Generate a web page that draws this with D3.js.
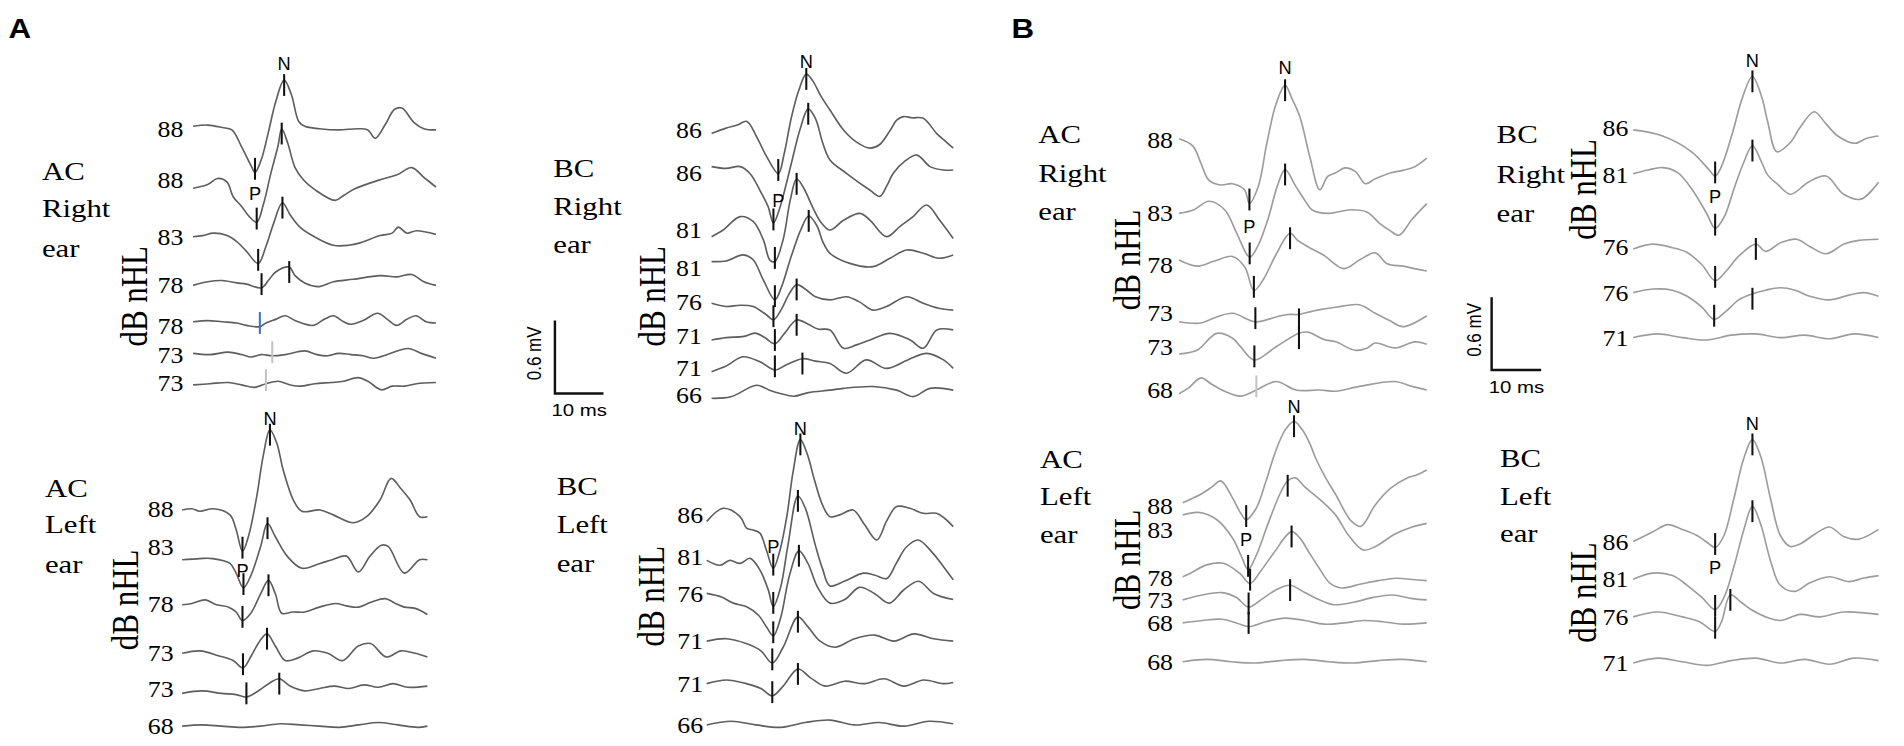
<!DOCTYPE html>
<html>
<head>
<meta charset="utf-8">
<script src="https://cdn.jsdelivr.net/npm/d3@7"></script>
<style>
  body { margin: 0; background: #fff; }
  svg { display: block; }
</style>
</head>
<body>
<svg id="fig" width="1904" height="746" viewBox="0 0 1568 614.35"></svg>
<script>
// sweep length (ms) and calibration bar
const sweepMs = 50;
const barMs = 10;
const barUv = 600; // 0.6 mV

// ---------- A : AC right ear ----------
const aAcRightLevels = [88, 88, 83, 78, 78, 73, 73];
const aAcRightWaves = [
  [[0,20],[3,30],[6,10],[8,-10],[10,-150],[12,-310],[12.75,-360],[14,-260],[15.5,-30],[17,220],[18.75,400],[20.25,280],[21.75,60],[23,20],[26,0],[30,-10],[34,0],[36,-10],[37.5,-80],[39.5,30],[41.5,160],[43,170],[45.5,50],[47.5,0],[50,-10]],
  [[0,-70],[3,-40],[5,10],[7,-20],[8.25,-140],[10,-220],[11.5,-300],[13.1,-350],[14.5,-200],[16,50],[17.5,280],[18.25,420],[19.5,300],[21,100],[22.7,0],[25,-80],[29.25,-170],[31,-130],[33,-80],[38.5,0],[42,40],[45,100],[47.5,20],[50,-60]],
  [[0,0],[2,10],[4.2,30],[7,10],[9,-40],[11,-120],[13.4,-220],[15,-80],[16.5,100],[18.4,280],[20,180],[22,80],[25,0],[28.9,-70],[32,-70],[34.4,-50],[38.5,10],[41,30],[42.25,80],[44,30],[46,50],[50,20]],
  [[0,0],[3,30],[6,40],[9,20],[11,10],[14.1,-20],[15.5,40],[17,110],[19.8,150],[21,80],[23,20],[26,-10],[28.9,30],[33,50],[38.5,80],[42,70],[45,90],[47.5,30],[50,0]],
  [[0,30],[3,40],[6,30],[9,20],[11,0],[13.75,-10],[15,20],[17,50],[19,80],[21,40],[24.6,0],[27,50],[28.9,80],[31,30],[32.5,10],[35,40],[38,100],[40,50],[41.9,0],[44,50],[45.9,80],[48,30],[50,20]],
  [[0,10],[3.5,0],[7.25,20],[10,0],[12,-20],[14,0],[16.3,-10],[19,0],[23,30],[25.5,0],[27.7,-10],[30,10],[32.5,0],[35,-10],[37.2,-30],[40,0],[42,30],[44.3,50],[47,10],[50,-30]],
  [[0,-20],[3.5,-10],[7.25,0],[10,-20],[12.75,-40],[15,-10],[17.5,10],[20,-20],[22.2,-30],[25,-10],[28.5,0],[31,10],[34,40],[36,10],[38.75,-60],[41,-30],[43.5,-30],[46,-10],[50,0]]
];
const aAcRightP = [12.75, 13.1, 13.4, 14.1, 13.75, 16.3, 15];
const aAcRightPKind = ['k', 'k', 'k', 'k', 'blue', 'faint', 'faint'];
const aAcRightN = [18.75, 18.25, 18.4, 19.8, null, null, null];

// ---------- A : BC right ear ----------
const aBcRightLevels = [86, 86, 81, 81, 76, 71, 71, 66];
const aBcRightWaves = [
  [[0,-30],[3,15],[5.3,40],[7.3,70],[9.3,-55],[11.4,-220],[13.8,-360],[15,-200],[16.5,100],[18,320],[19.6,460],[21,400],[22.6,280],[24.5,164],[27.3,0],[30,-100],[32.8,-150],[34.8,-120],[37,0],[38.3,80],[39.7,110],[41.5,100],[43.8,96],[46.6,-30],[48.3,-90],[50,-150]],
  [[0,55],[3,40],[5.9,55],[7.9,0],[10,-140],[11.7,-275],[12.8,-410],[14,-300],[14.8,-190],[16.5,80],[18.3,360],[20,530],[21.5,450],[23,250],[24.5,110],[27.9,0],[32.8,-140],[34.8,-190],[36.3,-100],[37.6,0],[40,100],[42.5,150],[45.2,55],[48,27],[50,27]],
  [[0,-55],[2.4,0],[5.9,110],[8.6,70],[10.7,-80],[12.1,-250],[13.1,-260],[14.8,-80],[16.3,250],[17.6,420],[19,350],[21,180],[22.7,60],[24.5,0],[27.3,80],[30.7,137],[32.8,80],[36.2,-55],[39,30],[41.7,110],[44.5,206],[47.2,80],[50,-70]],
  [[0,55],[3,60],[6.5,110],[8.6,70],[10.7,-96],[13.1,-260],[14.5,-150],[16.5,100],[18.5,320],[20.1,430],[21.8,350],[23,220],[24.5,123],[28.6,40],[33.4,13],[36.9,82],[40.4,150],[43.8,123],[47,82],[50,109]],
  [[0,-14],[3,-40],[5.9,-30],[8.6,-40],[11.4,-110],[12.8,-150],[14.5,-60],[16,60],[17.6,140],[19.5,100],[21.5,40],[24.5,14],[27.9,40],[30.5,0],[33.4,-70],[36.2,-40],[40.4,40],[43.8,-14],[47,-55],[50,-70]],
  [[0,-30],[3,-10],[6.7,0],[9,27],[11,-10],[13.1,-60],[15,20],[17.6,135],[20,100],[22,60],[24.5,53],[27.3,-98],[30,-70],[32.8,-30],[36.9,25],[41.1,-30],[43.8,-98],[46.6,53],[50,53]],
  [[0,-27],[3,20],[6.5,96],[10,55],[13.1,-13],[15.5,30],[18.8,80],[21.5,60],[24.5,40],[27.9,-40],[32,70],[36.2,0],[40.6,70],[44.5,124],[48,70],[50,0]],
  [[0,-27],[4,-15],[9.3,80],[12,40],[14.2,13],[17,-10],[20,20],[24.5,40],[27.3,55],[33.4,70],[38.3,40],[41.7,-13],[45.2,55],[50,40]]
];
const aBcRightP = [13.8, 12.8, 13.1, 13.1, 12.8, 13.1, 13.1, null];
const aBcRightN = [19.6, 20, 17.6, 20.1, 17.6, 17.6, 18.8, null];

// ---------- A : AC left ear ----------
const aAcLeftLevels = [88, 83, 78, 73, 73, 68];
const aAcLeftWaves = [
  [[0,-10],[2,0],[3.6,-20],[6.4,0],[9.75,-50],[11,-170],[12.3,-350],[13.5,-230],[15.2,100],[16.5,430],[17.9,650],[19.3,540],[20.6,320],[22.7,70],[24.4,-20],[28.1,-10],[30.8,-50],[34.9,-115],[37.6,-65],[40.3,70],[42.6,250],[44.5,170],[46.5,70],[48.4,-65],[50,-65]],
  [[0,-110],[3.6,-100],[6.2,-100],[9.75,-140],[11,-220],[12.5,-340],[14,-240],[16,0],[17.4,190],[19,80],[21.4,-80],[24.4,-180],[28.1,-140],[30.6,-110],[33.5,-80],[35.9,-210],[38.3,-80],[40.6,10],[42,0],[45.3,-220],[48.4,-110],[50,-110]],
  [[0,-10],[2,0],[4.7,30],[7,-10],[9.5,-30],[11,-70],[12.3,-140],[14,-80],[16,80],[17.6,190],[19,80],[20.3,-80],[22.5,-70],[25,-70],[28,-30],[31.3,0],[33.5,-20],[35.9,-30],[38.5,10],[41.4,40],[43.5,0],[45.3,-30],[47.5,-40],[50,-90]],
  [[0,0],[3.7,20],[7.4,-20],[10.4,-60],[12.4,-120],[14.1,-20],[15.8,100],[17.3,160],[19,60],[21,-60],[23.5,-40],[26.7,20],[29.7,0],[32.7,-60],[35.9,60],[38.4,80],[41.6,-30],[44.6,20],[47.5,0],[50,-30]],
  [[0,-40],[4,-20],[8,-40],[11,-50],[13.1,-70],[15.5,-20],[18,50],[19.8,80],[22,20],[25,-20],[28,0],[31,20],[34,0],[37,30],[40,10],[43,40],[46,10],[50,20]],
  [[0,0],[4,10],[8,0],[12,-10],[16,0],[20,20],[24,10],[28,0],[32,-10],[36,10],[40,30],[44,10],[48,-10],[50,0]]
];
const aAcLeftP = [12.3, 12.5, 12.3, 12.4, 13.1, null];
const aAcLeftN = [17.9, 17.4, 17.6, 17.3, 19.8, null];

// ---------- A : BC left ear ----------
const aBcLeftLevels = [86, 81, 76, 71, 71, 66];
const aBcLeftWaves = [
  [[0,-55],[3.35,54],[6.75,-15],[8.1,-110],[9.4,-125],[10.8,-150],[12.1,-290],[13.5,-440],[14.8,-300],[16.3,0],[17.5,350],[19,620],[20.4,500],[21.9,280],[23.5,80],[25,-15],[27,0],[29.7,40],[32,-80],[34.5,-207],[36.5,-50],[38.5,68],[41.2,54],[43.9,13],[46.6,13],[48.3,-30],[50,-97]],
  [[0,-30],[2.7,-70],[4.7,-30],[6.75,-55],[8.8,-13],[10.8,-110],[12.5,-275],[13.5,-410],[15,-250],[16.5,100],[18.5,500],[20,400],[22,100],[23.5,-100],[25,-240],[28,-200],[31.8,-135],[34,-150],[36.5,-180],[38.5,-50],[40.5,80],[42.9,138],[45.9,28],[48,-80],[50,-190]],
  [[0,0],[3,-30],[5.4,-80],[8.1,-110],[10.5,-180],[12.2,-280],[13.5,-350],[15,-200],[16.8,150],[18.7,350],[20.5,250],[22.5,50],[25,-80],[28,-50],[31,50],[34,0],[37,-80],[40,30],[43,100],[46,0],[50,-50]],
  [[0,0],[4,20],[8,-20],[11,-80],[13.3,-180],[15.5,-50],[18.5,200],[20.5,120],[23,0],[26,-50],[30,20],[34,50],[38,0],[42,60],[46,20],[50,0]],
  [[0,0],[4,30],[8,0],[11,-40],[13.3,-100],[15.5,-20],[18.5,120],[21,50],[24,-20],[28,20],[32,0],[36,40],[40,-20],[44,30],[48,0],[50,10]],
  [[0,0],[5,30],[10,0],[15,-20],[20,20],[25,40],[30,0],[35,20],[40,-10],[45,30],[50,10]]
];
const aBcLeftP = [13.5, 13.5, 13.5, 13.3, 13.3, null];
const aBcLeftN = [19, 18.5, 18.7, 18.5, 18.5, null];

// ---------- B : AC right ear ----------
const bAcRightLevels = [88, 83, 78, 73, 73, 68];
const bAcRightWaves = [
  [[0,10],[2.8,-50],[4.4,-190],[6,-330],[8.4,-370],[10.8,-360],[13.2,-410],[14.2,-520],[16,-380],[17.7,-30],[19.6,300],[21.4,450],[22.8,340],[24.4,190],[26.4,-140],[28.4,-410],[30,-300],[31.6,-270],[33.5,-230],[35.6,-260],[37.6,-360],[39.6,-320],[42.8,-270],[45.2,-250],[47.6,-220],[50,-150]],
  [[0,0],[3,30],[6,100],[9.2,30],[11.6,-160],[14.25,-360],[16,-260],[18,-40],[19.8,220],[21.4,360],[23.6,220],[25.5,100],[26.8,30],[30,0],[34.8,30],[38,10],[40.4,-80],[42.5,-140],[44.4,-180],[47,-50],[50,80]],
  [[0,40],[3.6,-10],[7,30],[10.8,70],[13.3,-20],[15.1,-210],[17,-120],[19.5,80],[22.4,260],[24,200],[26,150],[29.2,80],[33.2,-30],[36.4,40],[39.6,100],[42,10],[45.2,-10],[47.5,-30],[50,-50]],
  [[0,-70],[4.4,-80],[7.6,-30],[10.8,0],[15.4,-70],[19.6,-30],[22,-10],[24.2,-10],[25.2,0],[28.4,30],[31.6,50],[36.4,70],[39.6,0],[42.5,-60],[45.2,-110],[50,-20]],
  [[0,-60],[3.6,-30],[7.6,110],[10.8,70],[12.4,0],[15.2,-110],[19.6,0],[24.2,110],[26,120],[29.2,60],[31.6,40],[35.6,-30],[38,-10],[39.6,30],[43.6,-10],[47.6,40],[50,20]],
  [[0,-30],[2,20],[4.4,100],[6.5,50],[9.2,-10],[12.4,-50],[15.6,0],[19.6,70],[23.6,0],[28.4,0],[31.6,-10],[36.4,30],[43.6,70],[47,30],[50,0]]
];
const bAcRightP = [14.2, 14.25, 15.1, 15.4, 15.2, 15.6];
const bAcRightPKind = ['k', 'k', 'k', 'k', 'k', 'faint'];
const bAcRightN = [21.4, 21.4, 22.4, 24.2, 24.2, null];

// ---------- B : BC right ear ----------
const bBcRightLevels = [86, 81, 76, 76, 71];
const bBcRightWaves = [
  [[0,-20],[6,-70],[11.9,-200],[15.5,-350],[16.7,-400],[18,-320],[20.2,-50],[22.3,250],[24.3,420],[26.2,250],[27.4,50],[29.3,-200],[32.1,-120],[34,0],[36.9,130],[39.3,30],[41.7,-70],[45.2,-130],[47.5,-90],[50,-70]],
  [[0,10],[3,40],[6,60],[9,20],[12,-120],[15,-320],[16.7,-440],[18.5,-350],[20.5,-120],[22.5,100],[24.3,240],[26,120],[27.4,0],[29.5,-80],[32.1,-160],[35.7,-60],[39.3,-10],[42.9,-160],[46.4,-200],[50,-60]],
  [[0,-20],[4,20],[8,-10],[11,-50],[14,-150],[16.7,-280],[19,-200],[21.5,-80],[25,20],[27,-40],[30,30],[33.3,60],[36,0],[39.3,-60],[43,20],[46,50],[50,60]],
  [[0,0],[4,30],[8,20],[11,-30],[14,-120],[16.5,-220],[19,-150],[21.5,-60],[24.3,-10],[27,20],[30,40],[33,20],[36,-30],[40,-60],[44,-20],[47,0],[50,-30]],
  [[0,0],[5,30],[10,0],[15,-20],[20,20],[25,30],[30,0],[35,20],[40,-10],[45,30],[50,0]]
];
const bBcRightP = [16.7, 16.7, 16.7, 16.5, null];
const bBcRightN = [24.3, 24.3, 25, 24.3, null];

// ---------- B : AC left ear ----------
const bAcLeftLevels = [88, 83, 78, 73, 68, 68];
const bAcLeftWaves = [
  [[0,30],[3.7,100],[6,160],[7.8,210],[10.2,70],[11.8,-50],[13,-110],[15,-20],[17,200],[19,450],[21,630],[22.8,700],[24.5,630],[26,520],[27.2,400],[29.2,240],[31.3,100],[34.5,-120],[36.5,-165],[39.4,10],[42.6,150],[45.8,230],[48,260],[50,300]],
  [[0,120],[3.3,140],[7,80],[10.2,-70],[12,-220],[13.4,-330],[15,-220],[17.5,50],[20,300],[21.5,400],[23.1,425],[25,350],[28,250],[31.3,120],[34,-50],[37,-170],[39.5,-140],[43.4,-40],[47,20],[50,50]],
  [[0,13],[1.5,40],[4.9,110],[8.3,123],[11.7,40],[13.8,-42],[16,60],[18.6,205],[22.3,384],[24,330],[26,205],[28,80],[30.2,-42],[32.6,-80],[36.3,-50],[40,-20],[43.8,0],[47,-10],[50,-20]],
  [[0,0],[4,40],[8,60],[11,20],[13.5,-60],[16,0],[19,80],[22,120],[25,60],[28,0],[31,-40],[35,-20],[39,20],[43,40],[47,10],[50,0]],
  [[0,0],[4,20],[8,30],[11,0],[13.5,-30],[17,10],[21,40],[25,20],[29,-10],[33,0],[37,20],[41,10],[45,-10],[50,0]],
  [[0,0],[5,20],[10,0],[15,-10],[20,10],[25,20],[30,0],[35,-10],[40,10],[45,20],[50,0]]
];
const bAcLeftP = [13, 13.4, 13.8, 13.5, 13.5, null];
const bAcLeftN = [22.8, 21.5, 22.3, 22, null, null];

// ---------- B : BC left ear ----------
const bBcLeftLevels = [86, 81, 76, 71];
const bBcLeftWaves = [
  [[0,0],[4,80],[7,140],[10,100],[13,50],[15.5,-20],[16.7,-50],[18.5,50],[20.5,350],[22.5,680],[24.3,840],[26,700],[28,350],[30,50],[32,-40],[34,-20],[37,60],[40,120],[43,40],[46,20],[50,100]],
  [[0,0],[4,50],[8,30],[11,-50],[14,-150],[16.7,-250],[18.5,-150],[20.5,100],[22.5,400],[24.3,600],[26,450],[28,150],[30,-50],[33,-100],[36,-30],[40,20],[44,-20],[47,10],[50,30]],
  [[0,0],[5,40],[10,0],[13.5,-40],[16.7,-120],[18,-40],[19.8,180],[22,120],[24,60],[27,0],[30,-30],[34,20],[38,0],[43,40],[50,20]],
  [[0,0],[5,40],[10,10],[15,-20],[20,20],[25,40],[30,0],[35,30],[40,-10],[45,40],[50,20]]
];
const bBcLeftP = [16.7, 16.7, 16.7, null];
const bBcLeftN = [24.3, 24.3, 19.8, null];

// ---------- layout ----------
const serif = '"Liberation Serif", "Times New Roman", serif';
const sans = '"Liberation Sans", Arial, sans-serif';
const darkTrace = '#5e5e5e';
const lightTrace = '#9c9c9c';

const panels = [
  { levels: aAcRightLevels, waves: aAcRightWaves, p: aAcRightP, n: aAcRightN, pKind: aAcRightPKind,
    x0: 159, x1: 359, base: [106, 148, 195, 235, 268, 292, 315], labelX: 151,
    title: ['AC', 'Right', 'ear'], titleX: 34.5, titleY: [148, 179, 212], db: [110, 244],
    pDy: 17, nDy: -14, color: darkTrace },
  { levels: aBcRightLevels, waves: aBcRightWaves, p: aBcRightP, n: aBcRightN,
    x0: 586, x1: 785, base: [107, 142.7, 189.4, 220.9, 248.4, 277, 303.4, 325.3], labelX: 578,
    title: ['BC', 'Right', 'ear'], titleX: 455.6, titleY: [145.4, 177, 208.6], db: [537, 244],
    pDy: 22, nDy: -10, color: darkTrace },
  { levels: aAcLeftLevels, waves: aAcLeftWaves, p: aAcLeftP, n: aAcLeftN,
    x0: 150, x1: 352, base: [419, 450, 497, 538, 567, 598], labelX: 143,
    title: ['AC', 'Left', 'ear'], titleX: 37, titleY: [409, 439, 472], db: [103, 494],
    pDy: 16, nDy: -9, color: darkTrace },
  { levels: aBcLeftLevels, waves: aBcLeftWaves, p: aBcLeftP, n: aBcLeftN,
    x0: 582, x1: 785, base: [424, 458.5, 488.7, 528, 563, 597], labelX: 579,
    title: ['BC', 'Left', 'ear'], titleX: 458.4, titleY: [407.7, 439.2, 470.8], db: [536.5, 491],
    pDy: -18, nDy: -9, color: darkTrace },
  { levels: bAcRightLevels, waves: bAcRightWaves, p: bAcRightP, n: bAcRightN, pKind: bAcRightPKind,
    x0: 971, x1: 1175, base: [115.3, 175.7, 218.2, 258, 285.5, 321.2], labelX: 966,
    title: ['AC', 'Right', 'ear'], titleX: 855, titleY: [118, 149.6, 181.2], db: [928.5, 214],
    pDy: 19, nDy: -15, color: lightTrace },
  { levels: bBcRightLevels, waves: bBcRightWaves, p: bBcRightP, n: bBcRightN,
    x0: 1345, x1: 1547, base: [105, 144, 203, 241, 278], labelX: 1341,
    title: ['BC', 'Right', 'ear'], titleX: 1232.5, titleY: [118, 151, 182.5], db: [1304, 156],
    pDy: 17, nDy: -13, color: lightTrace },
  { levels: bAcLeftLevels, waves: bAcLeftWaves, p: bAcLeftP, n: bAcLeftN,
    x0: 974, x1: 1175, base: [417, 436, 476.2, 494, 513, 545], labelX: 966,
    title: ['AC', 'Left', 'ear'], titleX: 856.4, titleY: [385.7, 415.9, 447.4], db: [928, 461],
    pDy: 16, nDy: -12, color: lightTrace },
  { levels: bBcLeftLevels, waves: bBcLeftWaves, p: bBcLeftP, n: bBcLeftN,
    x0: 1345, x1: 1547, base: [446, 477, 508, 546], labelX: 1341,
    title: ['BC', 'Left', 'ear'], titleX: 1235.3, titleY: [384.3, 415.9, 446], db: [1304, 488],
    pDy: 16, nDy: -13, color: lightTrace }
];

const svg = d3.select('#fig');
const amp = d3.scaleLinear().domain([0, barUv]).range([0, -60]); // µV -> offset

function ampAt(wave, t) {
  const i = d3.bisector((d) => d[0]).left(wave, t);
  if (i <= 0) return wave[0][1];
  if (i >= wave.length) return wave[wave.length - 1][1];
  const a = wave[i - 1], b = wave[i];
  if (b[0] === t) return b[1];
  return a[1] + (b[1] - a[1]) * (t - a[0]) / (b[0] - a[0]);
}

const tickColor = { k: '#111', blue: '#3f6fc6', faint: '#c4c4c4' };

panels.forEach((pn) => {
  const g = svg.append('g');
  const x = d3.scaleLinear().domain([0, sweepMs]).range([pn.x0, pn.x1]);
  pn.xScale = x;

  // traces
  pn.waves.forEach((w, i) => {
    const base = pn.base[i];
    const line = d3.line()
      .x((d) => x(d[0]))
      .y((d) => base + amp(d[1]))
      .curve(d3.curveCatmullRom.alpha(0.5));
    g.append('path')
      .attr('d', line(w))
      .attr('fill', 'none')
      .attr('stroke', pn.color)
      .attr('stroke-width', 1.35)
      .attr('stroke-linejoin', 'round');
  });

  // level labels (the figure's lettering is a little wider than tall)
  g.selectAll('text.lvl')
    .data(pn.levels)
    .enter()
    .append('text')
    .attr('class', 'lvl')
    .attr('transform', (d, i) => `translate(${pn.labelX},${pn.base[i]}) scale(1.12,1)`)
    .attr('dy', '0.35em')
    .attr('text-anchor', 'end')
    .attr('font-family', serif)
    .attr('font-size', 19)
    .text((d) => d);

  // P / N ticks
  const ticks = [];
  pn.waves.forEach((w, i) => {
    if (pn.p[i] != null) {
      ticks.push({ t: pn.p[i], y: pn.base[i] + amp(ampAt(w, pn.p[i])) - 3,
        kind: pn.pKind ? pn.pKind[i] : 'k' });
    }
    if (pn.n[i] != null) {
      ticks.push({ t: pn.n[i], y: pn.base[i] + amp(ampAt(w, pn.n[i])) + 4, kind: 'k' });
    }
  });
  g.selectAll('line.tick')
    .data(ticks)
    .enter()
    .append('line')
    .attr('x1', (d) => x(d.t))
    .attr('x2', (d) => x(d.t))
    .attr('y1', (d) => d.y - 9)
    .attr('y2', (d) => d.y + 9)
    .attr('stroke', (d) => tickColor[d.kind])
    .attr('stroke-width', 1.7);

  // P and N letters on the top trace
  const w0 = pn.waves[0];
  const pY = pn.base[0] + amp(ampAt(w0, pn.p[0]));
  const nY = pn.base[0] + amp(ampAt(w0, pn.n[0]));
  g.append('text')
    .attr('x', x(pn.p[0]))
    .attr('y', pY + pn.pDy)
    .attr('dy', '0.36em')
    .attr('text-anchor', 'middle')
    .attr('font-family', sans)
    .attr('font-size', 15)
    .text('P');
  g.append('text')
    .attr('x', x(pn.n[0]))
    .attr('y', nY + pn.nDy)
    .attr('dy', '0.36em')
    .attr('text-anchor', 'middle')
    .attr('font-family', sans)
    .attr('font-size', 15)
    .text('N');

  // side title
  g.selectAll('text.ttl')
    .data(pn.title)
    .enter()
    .append('text')
    .attr('transform', (d, i) => `translate(${pn.titleX},${pn.titleY[i]}) scale(1.18,1)`)
    .attr('font-family', serif)
    .attr('font-size', 21.5)
    .text((d) => d);

  // dB nHL axis title
  g.append('text')
    .attr('transform', `translate(${pn.db[0]}, ${pn.db[1]}) rotate(-90) scale(1,1.2)`)
    .attr('text-anchor', 'middle')
    .attr('dy', '0.35em')
    .attr('font-family', serif)
    .attr('font-size', 25.5)
    .text('dB nHL');
});

// calibration bars
const bars = [
  { x: 457, y: 324, scale: panels[0].xScale, labelX: 440 },
  { x: 1228.4, y: 304.7, scale: panels[4].xScale, labelX: 1214 }
];
bars.forEach((b) => {
  const w = b.scale(barMs) - b.scale(0);
  const h = -amp(barUv);
  svg.append('path')
    .attr('d', `M${b.x},${b.y - h}V${b.y}H${b.x + w}`)
    .attr('fill', 'none')
    .attr('stroke', '#111')
    .attr('stroke-width', 2);
  svg.append('text')
    .attr('transform', `translate(${b.x + w / 2},${b.y + 14}) scale(1.2,1)`)
    .attr('dy', '0.35em')
    .attr('text-anchor', 'middle')
    .attr('font-family', sans)
    .attr('font-size', 14)
    .text(`${barMs} ms`);
  svg.append('text')
    .attr('transform', `translate(${b.labelX}, ${b.y - h / 2 - 3}) rotate(-90) scale(1,1.15)`)
    .attr('text-anchor', 'middle')
    .attr('dy', '0.35em')
    .attr('font-family', sans)
    .attr('font-size', 14)
    .text(`${barUv / 1000} mV`);
});

// panel letters
svg.selectAll('text.letter')
  .data([['A', 7], ['B', 833]])
  .enter()
  .append('text')
  .attr('transform', (d) => `translate(${d[1]},31.5) scale(1.12,1)`)
  .attr('font-family', sans)
  .attr('font-weight', 'bold')
  .attr('font-size', 23)
  .text((d) => d[0]);
</script>
</body>
</html>
